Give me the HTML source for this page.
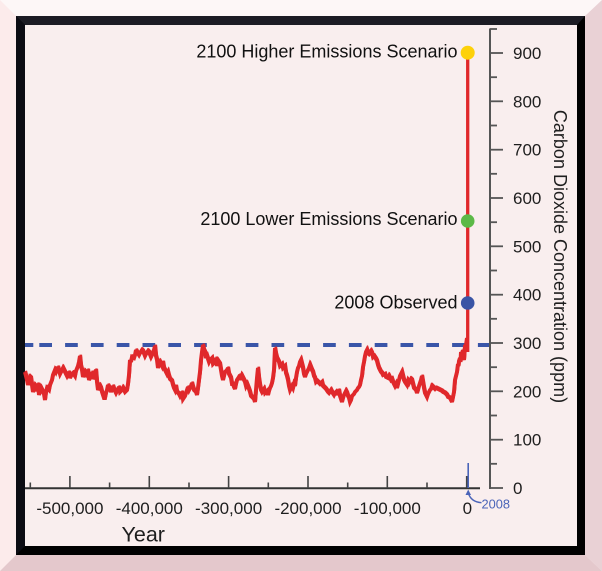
<!DOCTYPE html>
<html>
<head>
<meta charset="utf-8">
<style>
  html,body{margin:0;padding:0;background:#fdf7f7;}
  body{width:602px;height:571px;overflow:hidden;}
  svg{display:block;}
  text{font-family:"Liberation Sans", Arial, sans-serif;}
</style>
</head>
<body>
<svg width="602" height="571" viewBox="0 0 602 571" xmlns="http://www.w3.org/2000/svg">
  <defs>
    <path id="co2" d="M25,372 L27,380 28,385 30,377 31,378 33,392 35,386 36,388 38,384 39,395 41,388 42,390 44,394 45,400 46,392 47,388 49,390 50,385 52,380 53,375 55,370 56,372 58,367 60,374 61,372 63,368 64,370 66,374 67,376 69,372 70,378 72,374 73,373 75,376 76,371 78,366 79,362 80,356 81,366 82,370 83,377 85,372 86,374 88,370 89,380 91,376 92,372 93,379 94,377 95,372 96,370 97,382 98,390 100,386 101,388 102,392 103,395 104,398 105,398 106,393 107,390 108,385 110,389 111,392 113,386 114,389 116,393 117,391 119,387 120,392 122,390 123,388 125,392 127,390 128,384 129,375 130,360 131,362 132,357 134,358 135,355 136,350 137,352 139,355 140,353 142,350 143,351 145,356 146,354 148,351 149,352 151,357 152,355 153,352 154,350 155,346 156,356 157,360 158,368 159,364 160,362 162,366 163,362 164,368 165,370 167,374 168,372 169,376 170,379 172,381 173,385 174,388 175,390 176,386 177,392 179,394 180,396 182,392 183,399 185,396 186,393 188,387 189,390 191,386 192,383 193,387 194,390 196,392 197,395 198,388 199,380 200,372 201,360 202,352 203,345 204,350 205,352 206,358 207,356 209,362 210,360 212,358 213,364 215,362 216,358 217,366 218,361 220,364 221,370 222,376 223,380 224,376 225,372 227,370 228,368 229,374 231,378 232,384 233,384 234,387 235,389 236,384 237,380 239,377 240,375 241,380 242,376 244,380 245,382 246,386 247,384 249,389 250,392 251,396 252,397 254,399 255,402 256,390 257,378 258,368 259,378 260,385 261,390 262,392 264,389 265,393 267,391 268,395 269,391 270,388 271,386 272,383 273,378 274,370 275,348 276,354 277,358 279,362 280,366 282,364 283,368 285,366 286,373 287,376 288,380 289,386 290,390 292,386 293,388 294,384 295,386 296,378 297,372 298,368 299,366 300,362 301,360 302,364 303,368 304,374 305,377 306,374 307,372 309,368 310,365 312,370 313,372 314,376 315,378 316,382 317,381 319,383 320,384 322,382 323,386 325,388 326,389 328,392 329,393 331,390 332,392 334,395 335,393 336,392 337,395 338,392 339,390 340,396 342,402 343,398 344,395 346,391 347,393 348,396 349,398 350,402 351,400 352,396 354,394 355,392 357,390 358,388 359,387 360,385 361,380 362,376 363,367 364,362 365,356 366,352 367,350 368,353 369,354 371,351 372,353 373,357 374,356 376,359 377,361 378,365 379,368 380,370 381,372 382,373 383,375 385,374 386,377 388,378 389,376 390,378 391,380 392,379 393,382 394,384 395,386 396,384 397,388 398,384 399,380 400,376 402,372 403,376 404,380 405,382 407,385 408,381 409,383 411,379 412,380 413,384 414,388 416,390 417,393 418,390 419,386 421,380 422,376 423,382 424,388 425,393 427,397 428,394 429,392 430,390 431,389 432,386 433,387 435,389 436,388 438,389 440,390 442,391 443,392 445,393 447,395 448,397 450,398 451,400 452,402 453,397 454,392 455,380 456,376 457,372 458,364 458.5,366 459,361 460,358 460.5,362 461,352 462,356 463,350 463.5,358 464,360 465,346 466,345 467,338"/>
  </defs>
  <!-- bevel frame -->
  <rect x="0" y="0" width="602" height="571" fill="#fdf7f7"/>
  <polygon points="0,0 16,16 16,555 0,571" fill="#fcebeb"/>
  <polygon points="602,0 585,16 585,555 602,571" fill="#e9d1d5"/>
  <polygon points="0,571 16,555 585,555 602,571" fill="#e4c8cc"/>
  <!-- black frame -->
  <rect x="16" y="16" width="569" height="539" fill="#000"/>
  <polygon points="16,16 585,16 577,25 25,25" fill="#1c1c24"/>
  <polygon points="16,16 25,25 25,546 16,555" fill="#0c0c13"/>
  <!-- plot background -->
  <rect x="25" y="25" width="552" height="521" fill="#f9eeee"/>

  <!-- dashed 300ppm line -->
  <line x1="25" y1="345" x2="33.3" y2="345" stroke="#3a55a8" stroke-width="4"/>
  <line x1="39.3" y1="345" x2="490.6" y2="345" stroke="#3a55a8" stroke-width="4" stroke-dasharray="12.7 13.1"/>

  <!-- data series -->
  <use href="#co2" fill="none" stroke="#e0282b" stroke-width="4" stroke-linejoin="miter" stroke-miterlimit="3"/>
  <use href="#co2" transform="translate(0.8,-1.2)" fill="none" stroke="#e0282b" stroke-width="2.6" stroke-linejoin="miter" stroke-miterlimit="3"/>

  <!-- vertical projection line -->
  <line x1="467.7" y1="53" x2="467.7" y2="352" stroke="#e0282b" stroke-width="3.3"/>

  <!-- x axis -->
  <line x1="25" y1="488.3" x2="480" y2="488.3" stroke="#333" stroke-width="2"/>
  <g stroke="#444" stroke-width="1.6">
    <line x1="466.7" y1="476" x2="466.7" y2="488"/>
    <line x1="387.3" y1="476" x2="387.3" y2="488"/>
    <line x1="308" y1="476" x2="308" y2="488"/>
    <line x1="228.6" y1="476" x2="228.6" y2="488"/>
    <line x1="149.3" y1="476" x2="149.3" y2="488"/>
    <line x1="69.9" y1="476" x2="69.9" y2="488"/>
    <line x1="427" y1="482.5" x2="427" y2="488"/>
    <line x1="347.7" y1="482.5" x2="347.7" y2="488"/>
    <line x1="268.3" y1="482.5" x2="268.3" y2="488"/>
    <line x1="189" y1="482.5" x2="189" y2="488"/>
    <line x1="109.6" y1="482.5" x2="109.6" y2="488"/>
    <line x1="30.3" y1="482.5" x2="30.3" y2="488"/>
  </g>
  <g font-size="17" fill="#1e1e1e" text-anchor="middle">
    <text x="69.9" y="514">-500,000</text>
    <text x="149.3" y="514">-400,000</text>
    <text x="228.6" y="514">-300,000</text>
    <text x="308" y="514">-200,000</text>
    <text x="387.3" y="514">-100,000</text>
    <text x="467.3" y="514">0</text>
  </g>
  <text x="121.5" y="541.5" font-size="21.5" fill="#1e1e1e">Year</text>

  <!-- 2008 marker -->
  <line x1="468.2" y1="463" x2="468.2" y2="488" stroke="#4a64b8" stroke-width="1.6"/>
  <path d="M481.5,502.7 Q471,502 468.3,493" fill="none" stroke="#4a64b8" stroke-width="1.4"/>
  <polygon points="468.2,489.5 465.5,495 471,495" fill="#4a64b8"/>
  <text x="481.5" y="508.3" font-size="12.8" fill="#4a64b8">2008</text>

  <!-- y axis -->
  <line x1="490" y1="28.5" x2="490" y2="489" stroke="#555" stroke-width="2"/>
  <g stroke="#555" stroke-width="1.8">
    <line x1="490" y1="488" x2="503" y2="488"/>
    <line x1="490" y1="439.7" x2="503" y2="439.7"/>
    <line x1="490" y1="391.3" x2="503" y2="391.3"/>
    <line x1="490" y1="343" x2="503" y2="343"/>
    <line x1="490" y1="294.7" x2="503" y2="294.7"/>
    <line x1="490" y1="246.3" x2="503" y2="246.3"/>
    <line x1="490" y1="198" x2="503" y2="198"/>
    <line x1="490" y1="149.7" x2="503" y2="149.7"/>
    <line x1="490" y1="101.3" x2="503" y2="101.3"/>
    <line x1="490" y1="53" x2="503" y2="53"/>
    <line x1="490" y1="463.8" x2="497" y2="463.8"/>
    <line x1="490" y1="415.5" x2="497" y2="415.5"/>
    <line x1="490" y1="367.2" x2="497" y2="367.2"/>
    <line x1="490" y1="318.8" x2="497" y2="318.8"/>
    <line x1="490" y1="270.5" x2="497" y2="270.5"/>
    <line x1="490" y1="222.2" x2="497" y2="222.2"/>
    <line x1="490" y1="173.8" x2="497" y2="173.8"/>
    <line x1="490" y1="125.5" x2="497" y2="125.5"/>
    <line x1="490" y1="77.2" x2="497" y2="77.2"/>
    <line x1="490" y1="29" x2="497" y2="29"/>
  </g>
  <g font-size="17" fill="#1e1e1e">
    <text x="513" y="494">0</text>
    <text x="513" y="445.7">100</text>
    <text x="513" y="397.3">200</text>
    <text x="513" y="349">300</text>
    <text x="513" y="300.7">400</text>
    <text x="513" y="252.3">500</text>
    <text x="513" y="204">600</text>
    <text x="513" y="155.7">700</text>
    <text x="513" y="107.3">800</text>
    <text x="513" y="59">900</text>
  </g>
  <text transform="translate(554,256.5) rotate(90)" text-anchor="middle" font-size="18" fill="#1e1e1e">Carbon Dioxide Concentration (ppm)</text>

  <!-- scenario markers -->
  <circle cx="467.7" cy="52.7" r="7" fill="#fdd10a"/>
  <circle cx="467.7" cy="221" r="6.8" fill="#5cb947"/>
  <circle cx="467.7" cy="303" r="6.8" fill="#3a54a5"/>
  <g font-size="18" fill="#111" text-anchor="end">
    <text x="457.5" y="57.3">2100 Higher Emissions Scenario</text>
    <text x="457.5" y="225">2100 Lower Emissions Scenario</text>
    <text x="457.5" y="308.3">2008 Observed</text>
  </g>
</svg>
</body>
</html>
